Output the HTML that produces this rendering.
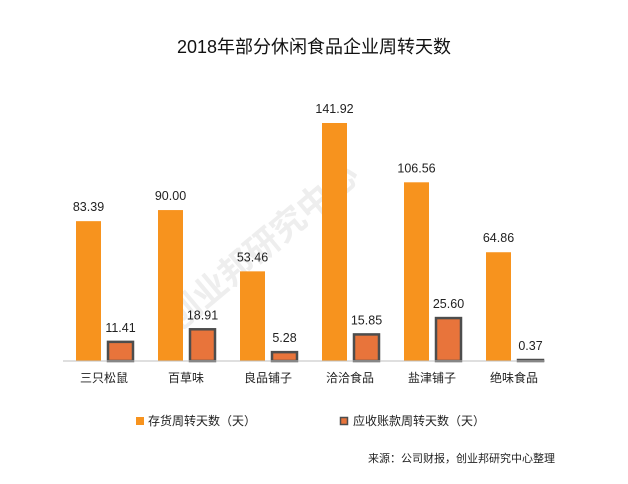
<!DOCTYPE html>
<html><head><meta charset="utf-8"><style>
body{margin:0;background:#fff;}
svg text{font-family:"Liberation Sans","Noto Sans CJK SC",sans-serif;}
</style></head><body>
<svg width="628" height="479" xmlns="http://www.w3.org/2000/svg">
<text x="314" y="53" text-anchor="middle" font-size="18" fill="#111">2018年部分休闲食品企业周转天数</text>
<text x="270" y="255" text-anchor="middle" font-size="34" font-weight="bold" fill="#eeeeee" transform="rotate(-40 270 255)">创业邦研究中心</text>
<g id="bars"></g>
<line x1="63" y1="361" x2="545" y2="361" stroke="#bfbfbf" stroke-width="1"/>
<g>
<rect x="136" y="417" width="8" height="8" fill="#F7931E"/>
<text x="148" y="425" font-size="12" fill="#222">存货周转天数（天）</text>
<rect x="340.5" y="417.5" width="7" height="7" fill="#E8743B" stroke="#4d4d4d" stroke-width="1.5"/>
<text x="353" y="425" font-size="12" fill="#222">应收账款周转天数（天）</text>
</g>
<text x="368" y="462" font-size="11" fill="#222">来源：公司财报，创业邦研究中心整理</text>
</svg>
<script>
const categories=["三只松鼠","百草味","良品铺子","洽洽食品","盐津铺子","绝味食品"];
const inventoryDays=[83.39,90.00,53.46,141.92,106.56,64.86];
const receivableDays=[11.41,18.91,5.28,15.85,25.60,0.37];
const labelsA=["83.39","90.00","53.46","141.92","106.56","64.86"];
const labelsB=["11.41","18.91","5.28","15.85","25.60","0.37"];
const NS="http://www.w3.org/2000/svg";
const g=document.getElementById('bars');
const base=361, k=238/141.92;
function y(v){return base-v*k;}
function xBand(i){return 63+i*82;}
function mk(t,a){const e=document.createElementNS(NS,t);for(const n in a)e.setAttribute(n,a[n]);g.appendChild(e);return e;}
categories.forEach((c,i)=>{
  const x0=xBand(i)+13;
  const r=mk('rect',{x:x0,y:y(inventoryDays[i]),width:25,height:base-y(inventoryDays[i]),fill:'#F7931E'});
  
  
  const t=mk('text',{x:x0+12.5,y:y(inventoryDays[i])-10,'text-anchor':'middle','font-size':'12.5',fill:'#222'});
  t.textContent=labelsA[i];
  
  
  const x1=x0+32, h=Math.max(base-y(receivableDays[i]),1);
  const r2=mk('rect',{x:x1,y:base-h,width:25,height:h,fill:'#E8743B',stroke:'#4d4d4d','stroke-width':'2.5'});
  
  
  const t2=mk('text',{x:x1+12.5,y:base-h-10,'text-anchor':'middle','font-size':'12.5',fill:'#222'});
  t2.textContent=labelsB[i];
  
  
  const cl=mk('text',{x:x0+28,y:382,'text-anchor':'middle','font-size':'12',fill:'#222'});
  cl.textContent=c;
  
  
});
</script>
</body></html>
